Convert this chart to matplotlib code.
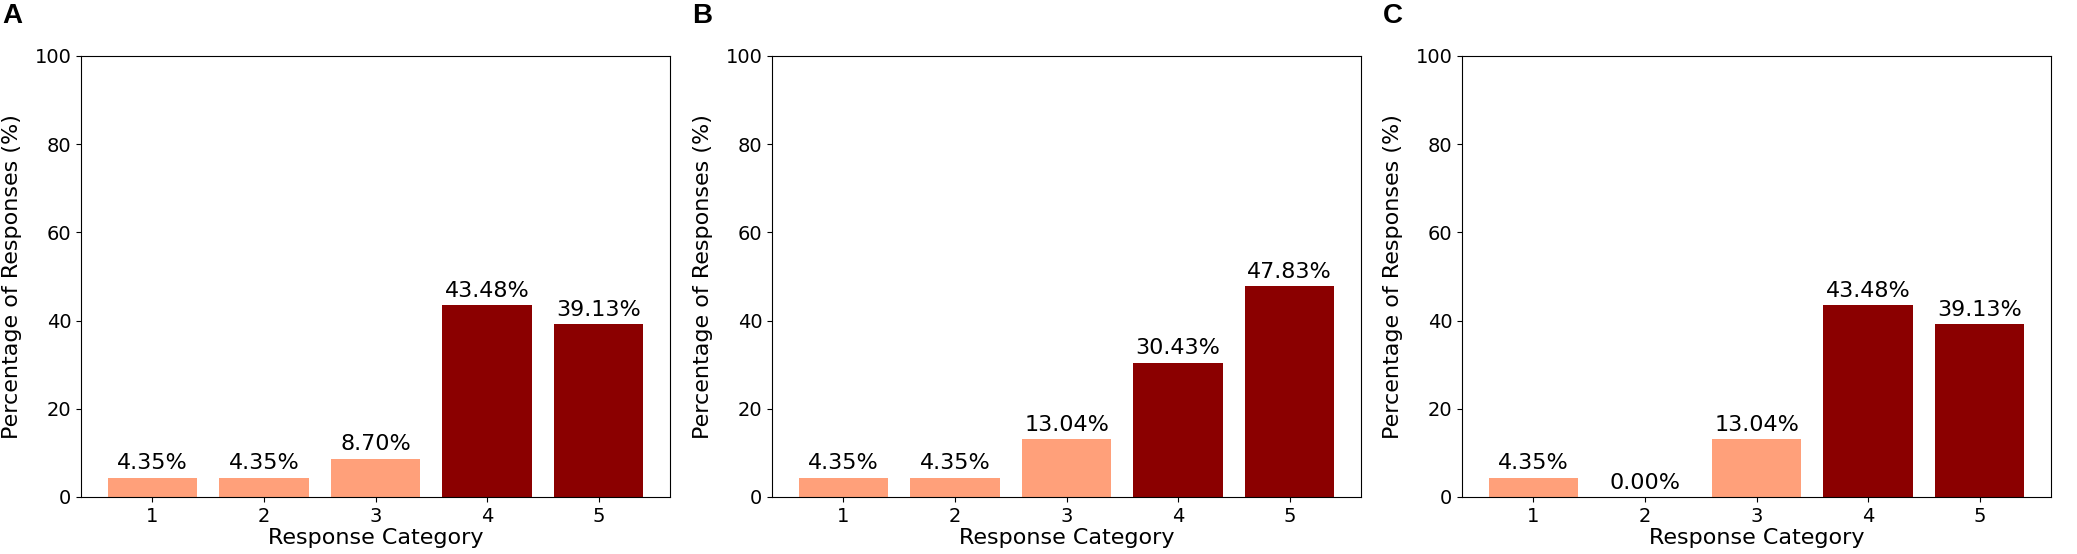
import matplotlib
matplotlib.use("Agg")
import matplotlib.pyplot as plt

categories = [1, 2, 3, 4, 5]
panel_labels = ["A", "B", "C"]
values_A = [4.35, 4.35, 8.70, 43.48, 39.13]
values_B = [4.35, 4.35, 13.04, 30.43, 47.83]
values_C = [4.35, 0.00, 13.04, 43.48, 39.13]
bar_colors = ["#FFA07A", "#FFA07A", "#FFA07A", "#8B0000", "#8B0000"]

fig = plt.figure(figsize=(20.77, 5.54), dpi=100)
lefts = [0.039, 0.3717, 0.7039]
width = 0.2836
bottom, height = 0.103, 0.796
label_x = [0.001, 0.333, 0.666]

for i, (vals, lab) in enumerate(zip([values_A, values_B, values_C], panel_labels)):
    ax = fig.add_axes([lefts[i], bottom, width, height])
    bars = ax.bar(categories, vals, color=bar_colors, width=0.8)
    for b, v in zip(bars, vals):
        ax.text(b.get_x() + b.get_width() / 2, v + 1, f"{v:.2f}%",
                ha="center", va="bottom", fontsize=16)
    ax.set_ylim(0, 100)
    ax.set_xticks(categories)
    ax.tick_params(labelsize=14)
    ax.set_xlabel("Response Category", fontsize=16, labelpad=2)
    ax.set_ylabel("Percentage of Responses (%)", fontsize=16, labelpad=9)
    fig.text(label_x[i], 0.994, lab, fontsize=20, fontweight="bold",
             family="Liberation Sans", ha="left", va="top")

fig.savefig("out.png", dpi=100)
